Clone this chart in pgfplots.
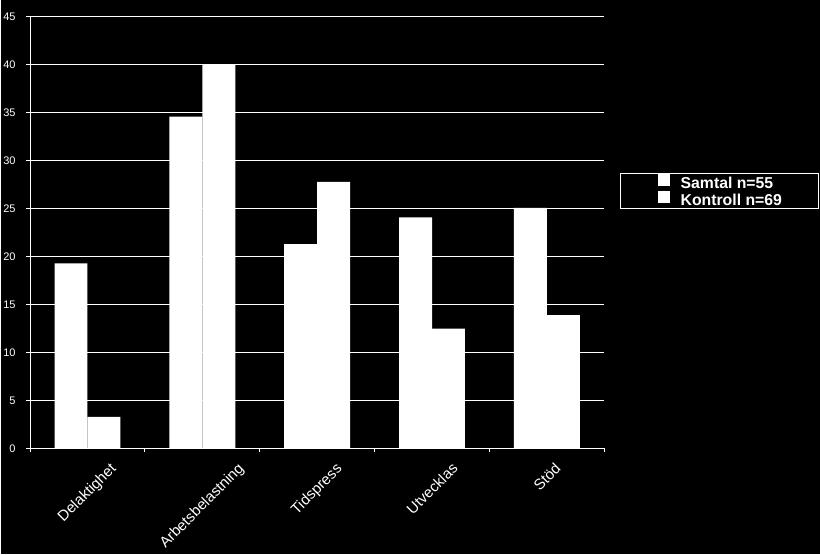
\documentclass[border=0pt]{standalone}
\usepackage{pgfplots}
\pgfplotsset{compat=1.18}
\usepackage{graphicx}
\usepackage{fontspec}
\setmainfont{Liberation Sans}

\pgfplotstableread{
cat samtal kontroll
0   19.3   3.3
1   34.6  40.0
2   21.3  27.8
3   24.1  12.5
4   25.1  13.9
}\datatable

\begin{document}
\begin{tikzpicture}
% black page behind the chart
\fill[black] (-29pt,-106pt) rectangle (791pt,449pt);
\begin{axis}[
  scale only axis,
  width=575pt, height=432pt,
  xmin=-0.5, xmax=4.5, ymin=0, ymax=45,
  ybar=0pt, bar width=33pt,
  axis x line*=bottom, axis y line*=left,
  axis line style={white, line width=1pt},
  tick align=outside,
  major tick length=4pt, minor tick length=4pt,
  /pgf/number format/assume math mode=true,
  ytick={0,5,...,45},
  ymajorgrids,
  grid style={white, line width=1pt},
  y tick style={white, line width=1pt},
  xtick={0,1,2,3,4},
  xticklabels={\rotatebox{45}{Delaktighet},\rotatebox{45}{Arbetsbelastning},\rotatebox{45}{Tidspress},\rotatebox{45}{Utvecklas},\rotatebox{45}{Stöd}},
  major x tick style={draw=none},
  minor xtick={-0.5,0.5,1.5,2.5,3.5,4.5},
  minor x tick style={white, line width=1pt},
  xticklabel style={anchor=north, font=\fontsize{15}{17}\selectfont, text=white, yshift=-6pt},
  yticklabel style={font=\fontsize{11}{13}\selectfont, text=white, xshift=-7pt},
  legend style={at={(1.0278,0.6389)}, anchor=north west,
    draw=white, line width=1pt, fill=black, text=white,
    font=\bfseries\fontsize{15.8}{16}\selectfont,
    inner xsep=37pt, inner ysep=0.5pt,
    nodes={inner sep=0pt, text height=12pt, text depth=2.5pt}},
  legend cell align=left,
  legend image code/.code={\fill[white] (0pt,-2pt) rectangle (12pt,10pt); \path (23pt,0pt);},
]
\addplot[fill=white, draw=none] table[x=cat, y=samtal] {\datatable};
\addplot[fill=white, draw=none] table[x=cat, y=kontroll] {\datatable};
\legend{Samtal n=55, Kontroll n=69}
\end{axis}
\end{tikzpicture}
\end{document}
